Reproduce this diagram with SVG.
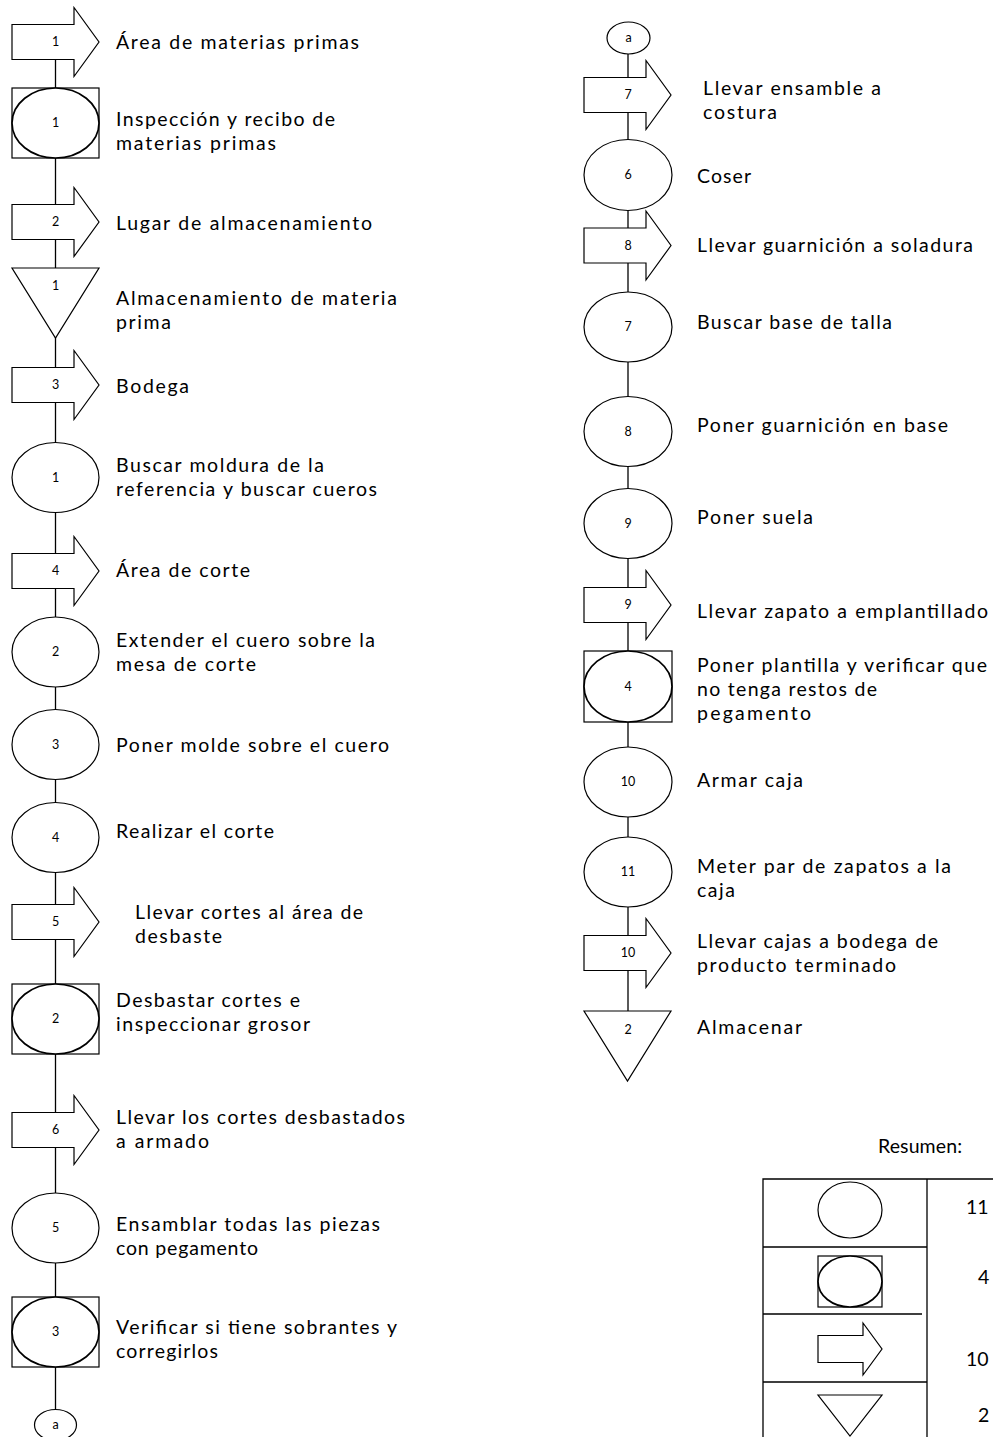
<svg xmlns="http://www.w3.org/2000/svg" xmlns:xlink="http://www.w3.org/1999/xlink" width="993" height="1437" viewBox="0 0 993 1437">
<style>
.shp{fill:#fff;stroke:#000;stroke-width:1.2}
.ins{fill:#fff;stroke:#000;stroke-width:1.7}
.ln{stroke:#000;stroke-width:1.3;fill:none}
.t{font-family:Lato,"Open Sans","Liberation Sans",sans-serif;font-size:19.5px;fill:#000}
.n{font-family:Lato,"Open Sans","Liberation Sans",sans-serif;font-size:12.5px;fill:#000;text-anchor:middle}
</style>
<defs>
<path id="arrow" d="M0,-17.5 H62 V-34.5 L87,0 L62,34.5 V17.5 H0 Z"/>
<path id="tri" d="M0,0 H87 L43.5,70 Z"/>
</defs>
<rect width="993" height="1437" fill="#fff"/>
<g id="connectors">
<line class="ln" x1="55.5" y1="42" x2="55.5" y2="1410"/>
<line class="ln" x1="628" y1="54" x2="628" y2="1012"/>
</g>
<g id="t1"><use href="#arrow" class="shp" x="12" y="42"/><text class="n" x="55.5" y="46">1</text><text class="t" x="116" y="49" textLength="243">Área de materias primas</text></g>
<g id="i1"><rect class="shp" x="12" y="88" width="87" height="70"/><ellipse class="ins" cx="55.5" cy="123" rx="43.5" ry="35"/><text class="n" x="55.5" y="127">1</text><text class="t" x="116" y="126" textLength="219">Inspección y recibo de</text><text class="t" x="116" y="150" textLength="160">materias primas</text></g>
<g id="t2"><use href="#arrow" class="shp" x="12" y="222"/><text class="n" x="55.5" y="226">2</text><text class="t" x="116" y="230" textLength="256">Lugar de almacenamiento</text></g>
<g id="s1"><use href="#tri" class="shp" x="12" y="268"/><text class="n" x="55.5" y="290">1</text><text class="t" x="116" y="305" textLength="281">Almacenamiento de materia</text><text class="t" x="116" y="329" textLength="55">prima</text></g>
<g id="t3"><use href="#arrow" class="shp" x="12" y="385"/><text class="n" x="55.5" y="389">3</text><text class="t" x="116" y="393" textLength="73">Bodega</text></g>
<g id="o1"><ellipse class="shp" cx="55.5" cy="477.5" rx="43.5" ry="35"/><text class="n" x="55.5" y="482">1</text><text class="t" x="116" y="472" textLength="208">Buscar moldura de la</text><text class="t" x="116" y="496" textLength="261">referencia y buscar cueros</text></g>
<g id="t4"><use href="#arrow" class="shp" x="12" y="571"/><text class="n" x="55.5" y="575">4</text><text class="t" x="116" y="577" textLength="134">Área de corte</text></g>
<g id="o2"><ellipse class="shp" cx="55.5" cy="652" rx="43.5" ry="35"/><text class="n" x="55.5" y="656">2</text><text class="t" x="116" y="647" textLength="259">Extender el cuero sobre la</text><text class="t" x="116" y="671" textLength="140">mesa de corte</text></g>
<g id="o3"><ellipse class="shp" cx="55.5" cy="744.5" rx="43.5" ry="35"/><text class="n" x="55.5" y="749">3</text><text class="t" x="116" y="752" textLength="273">Poner molde sobre el cuero</text></g>
<g id="o4"><ellipse class="shp" cx="55.5" cy="837.5" rx="43.5" ry="35"/><text class="n" x="55.5" y="842">4</text><text class="t" x="116" y="838" textLength="158">Realizar el corte</text></g>
<g id="t5"><use href="#arrow" class="shp" x="12" y="922"/><text class="n" x="55.5" y="926">5</text><text class="t" x="135" y="919" textLength="228">Llevar cortes al área de</text><text class="t" x="135" y="943" textLength="87">desbaste</text></g>
<g id="i2"><rect class="shp" x="12" y="984" width="87" height="70"/><ellipse class="ins" cx="55.5" cy="1019" rx="43.5" ry="35"/><text class="n" x="55.5" y="1023">2</text><text class="t" x="116" y="1007" textLength="184">Desbastar cortes e</text><text class="t" x="116" y="1031" textLength="194">inspeccionar grosor</text></g>
<g id="t6"><use href="#arrow" class="shp" x="12" y="1130"/><text class="n" x="55.5" y="1134">6</text><text class="t" x="116" y="1124" textLength="289">Llevar los cortes desbastados</text><text class="t" x="116" y="1148" textLength="93">a armado</text></g>
<g id="o5"><ellipse class="shp" cx="55.5" cy="1228" rx="43.5" ry="35"/><text class="n" x="55.5" y="1232">5</text><text class="t" x="116" y="1231" textLength="264">Ensamblar todas las piezas</text><text class="t" x="116" y="1255" textLength="142">con pegamento</text></g>
<g id="i3"><rect class="shp" x="12" y="1297" width="87" height="70"/><ellipse class="ins" cx="55.5" cy="1332" rx="43.5" ry="35"/><text class="n" x="55.5" y="1336">3</text><text class="t" x="116" y="1334" textLength="281">Verificar si tiene sobrantes y</text><text class="t" x="116" y="1358" textLength="102">corregirlos</text></g>
<g id="a1"><ellipse class="shp" cx="55.5" cy="1425" rx="21" ry="15.5"/><text class="n" x="55.5" y="1429">a</text></g>

<g id="a2"><ellipse class="shp" cx="628.5" cy="38" rx="21.5" ry="16"/><text class="n" x="628.5" y="42">a</text></g>
<g id="t7"><use href="#arrow" class="shp" x="584" y="95"/><text class="n" x="628" y="99">7</text><text class="t" x="703" y="95" textLength="178">Llevar ensamble a</text><text class="t" x="703" y="119" textLength="74">costura</text></g>
<g id="o6"><ellipse class="shp" cx="628" cy="175" rx="44" ry="35.5"/><text class="n" x="628" y="179">6</text><text class="t" x="697" y="183" textLength="54">Coser</text></g>
<g id="t8"><use href="#arrow" class="shp" x="584" y="245.5"/><text class="n" x="628" y="250">8</text><text class="t" x="697" y="252" textLength="276">Llevar guarnición a soladura</text></g>
<g id="o7"><ellipse class="shp" cx="628" cy="327" rx="44" ry="35"/><text class="n" x="628" y="331">7</text><text class="t" x="697" y="329" textLength="195">Buscar base de talla</text></g>
<g id="o8"><ellipse class="shp" cx="628" cy="431.5" rx="44" ry="35"/><text class="n" x="628" y="436">8</text><text class="t" x="697" y="432" textLength="251">Poner guarnición en base</text></g>
<g id="o9"><ellipse class="shp" cx="628" cy="523.5" rx="44" ry="35"/><text class="n" x="628" y="528">9</text><text class="t" x="697" y="524" textLength="116">Poner suela</text></g>
<g id="t9"><use href="#arrow" class="shp" x="584" y="605"/><text class="n" x="628" y="609">9</text><text class="t" x="697" y="618" textLength="291">Llevar zapato a emplantillado</text></g>
<g id="i4"><rect class="shp" x="584" y="651" width="88" height="71"/><ellipse class="ins" cx="628" cy="686.5" rx="44" ry="35.5"/><text class="n" x="628" y="691">4</text><text class="t" x="697" y="672" textLength="290">Poner plantilla y verificar que</text><text class="t" x="697" y="696" textLength="180">no tenga restos de</text><text class="t" x="697" y="720" textLength="114">pegamento</text></g>
<g id="o10"><ellipse class="shp" cx="628" cy="782" rx="44" ry="35"/><text class="n" x="628" y="786">10</text><text class="t" x="697" y="787" textLength="106">Armar caja</text></g>
<g id="o11"><ellipse class="shp" cx="628" cy="872" rx="44" ry="35"/><text class="n" x="628" y="876">11</text><text class="t" x="697" y="873" textLength="254">Meter par de zapatos a la</text><text class="t" x="697" y="897" textLength="38">caja</text></g>
<g id="t10"><use href="#arrow" class="shp" x="584" y="953"/><text class="n" x="628" y="957">10</text><text class="t" x="697" y="948" textLength="241">Llevar cajas a bodega de</text><text class="t" x="697" y="972" textLength="199">producto terminado</text></g>
<g id="s2"><use href="#tri" class="shp" x="584" y="1011"/><text class="n" x="628" y="1034">2</text><text class="t" x="697" y="1034" textLength="105">Almacenar</text></g>

<g id="summary">
<text class="t" x="878" y="1153" textLength="84">Resumen:</text>
<path class="ln" d="M763,1437 V1179 H993 M927,1179 V1437 M763,1247 H927 M763,1314 H922 M763,1382 H927"/>
<ellipse class="shp" cx="850" cy="1210" rx="32" ry="28"/>
<rect class="shp" x="818" y="1256" width="64" height="51"/>
<ellipse class="ins" cx="850" cy="1281.5" rx="32" ry="25.5"/>
<path class="shp" d="M818,1335.5 H863 V1323 L882,1349 L863,1375 V1362.5 H818 Z"/>
<path class="shp" d="M818,1395 H882 L850,1436 Z"/>
<text class="t" x="966" y="1214">11</text>
<text class="t" x="978" y="1284">4</text>
<text class="t" x="966" y="1366">10</text>
<text class="t" x="978" y="1422">2</text>
</g>
</svg>
